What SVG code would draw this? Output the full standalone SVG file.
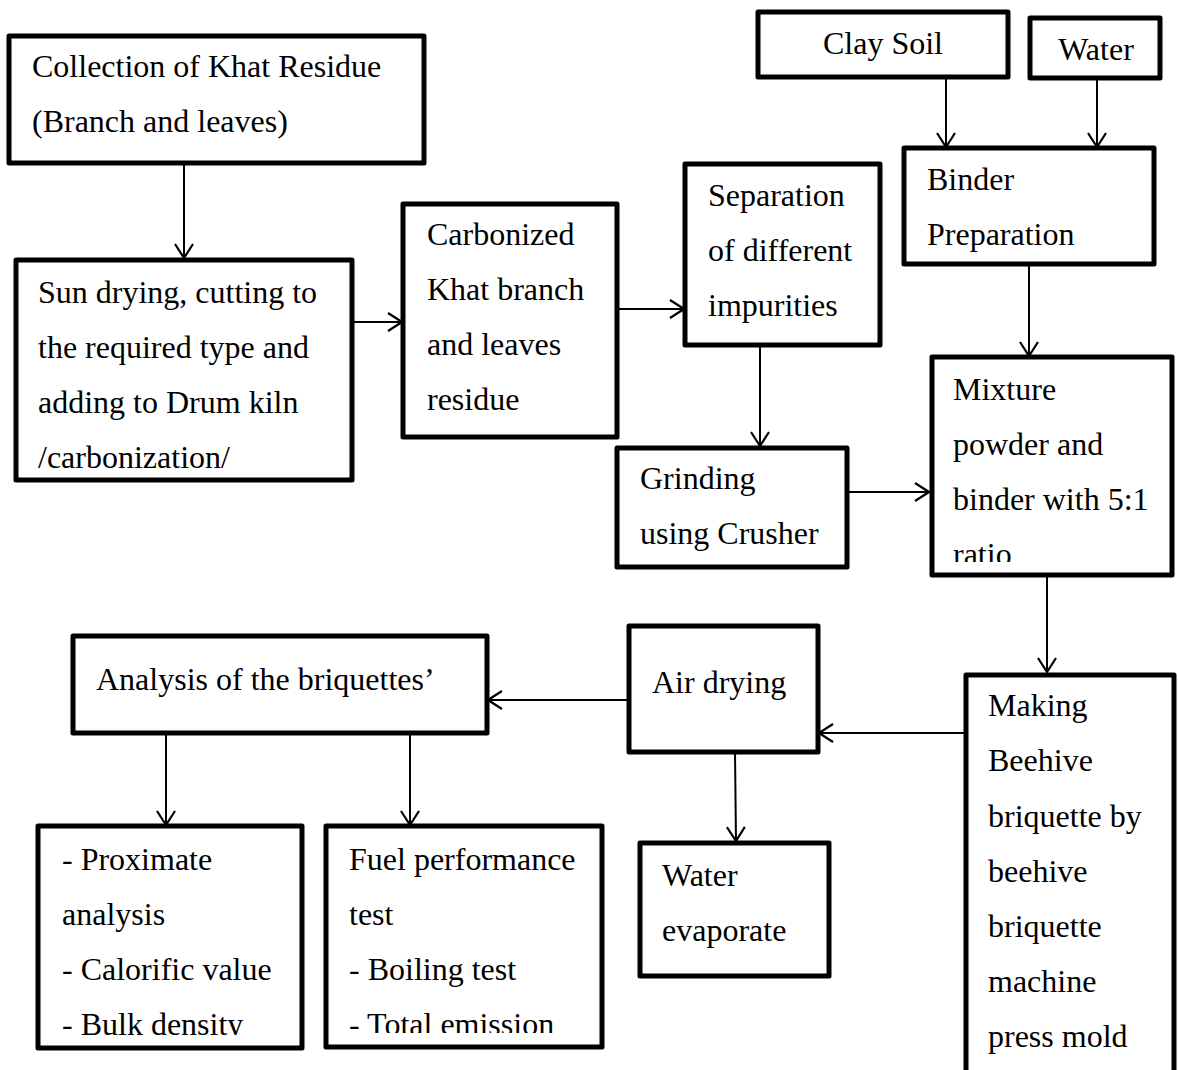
<svg xmlns="http://www.w3.org/2000/svg" width="1178" height="1070" viewBox="0 0 1178 1070">
<style>
.box{fill:#fff;stroke:#000;stroke-width:5;stroke-linejoin:round}
.t{font-family:"Liberation Serif","Times New Roman",serif;font-size:32px;fill:#000}
.c{stroke:#000;stroke-width:2;fill:none}
</style>
<defs>
<marker id="ah" viewBox="0 0 16 20" refX="15" refY="10" markerWidth="16" markerHeight="20" markerUnits="userSpaceOnUse" orient="auto">
<path d="M1,1 L15,10 L1,19" fill="none" stroke="#000" stroke-width="2.2"/>
</marker>
<clipPath id="clipMix"><rect x="930" y="355" width="245" height="207"/></clipPath>
<clipPath id="clipProx"><rect x="36" y="824" width="270" height="211"/></clipPath>
<clipPath id="clipFuel"><rect x="324" y="824" width="282" height="209"/></clipPath>
</defs>
<rect width="1178" height="1070" fill="#fff"/>
<g id="connectors">
<line class="c" x1="184" y1="163" x2="184" y2="258" marker-end="url(#ah)"/>
<line class="c" x1="352" y1="322" x2="402" y2="322" marker-end="url(#ah)"/>
<line class="c" x1="617" y1="309" x2="684" y2="309" marker-end="url(#ah)"/>
<line class="c" x1="760" y1="345" x2="760" y2="446" marker-end="url(#ah)"/>
<line class="c" x1="847" y1="492" x2="929" y2="492" marker-end="url(#ah)"/>
<line class="c" x1="946" y1="77" x2="946" y2="147" marker-end="url(#ah)"/>
<line class="c" x1="1097" y1="78" x2="1097" y2="147" marker-end="url(#ah)"/>
<line class="c" x1="1029" y1="264" x2="1029" y2="356" marker-end="url(#ah)"/>
<line class="c" x1="1047" y1="576" x2="1047" y2="672" marker-end="url(#ah)"/>
<line class="c" x1="968" y1="733" x2="819" y2="733" marker-end="url(#ah)"/>
<line class="c" x1="629" y1="700" x2="488" y2="700" marker-end="url(#ah)"/>
<line class="c" x1="166" y1="733" x2="166" y2="825" marker-end="url(#ah)"/>
<line class="c" x1="410" y1="733" x2="410" y2="825" marker-end="url(#ah)"/>
<line class="c" x1="735" y1="752" x2="736" y2="841" marker-end="url(#ah)"/>
</g>
<g id="n-collection">
<rect class="box" x="9" y="36" width="415" height="127"/>
<text class="t" x="32" y="77">Collection of Khat Residue</text>
<text class="t" x="32" y="132">(Branch and leaves)</text>
</g>
<g id="n-sundrying">
<rect class="box" x="16" y="260" width="336" height="220"/>
<text class="t" x="38" y="303">Sun drying, cutting to</text>
<text class="t" x="38" y="358">the required type and</text>
<text class="t" x="38" y="413">adding to Drum kiln</text>
<text class="t" x="38" y="468">/carbonization/</text>
</g>
<g id="n-carbonized">
<rect class="box" x="403" y="204" width="214" height="233"/>
<text class="t" x="427" y="245">Carbonized</text>
<text class="t" x="427" y="300">Khat branch</text>
<text class="t" x="427" y="355">and leaves</text>
<text class="t" x="427" y="410">residue</text>
</g>
<g id="n-separation">
<rect class="box" x="685" y="164" width="195" height="181"/>
<text class="t" x="708" y="206">Separation</text>
<text class="t" x="708" y="261">of different</text>
<text class="t" x="708" y="316">impurities</text>
</g>
<g id="n-grinding">
<rect class="box" x="617" y="448" width="230" height="119"/>
<text class="t" x="640" y="489">Grinding</text>
<text class="t" x="640" y="544">using Crusher</text>
</g>
<g id="n-clay">
<rect class="box" x="758" y="12" width="250" height="65"/>
<text class="t" x="883" y="54" text-anchor="middle">Clay Soil</text>
</g>
<g id="n-water">
<rect class="box" x="1030" y="18" width="130" height="60"/>
<text class="t" x="1096" y="60" text-anchor="middle">Water</text>
</g>
<g id="n-binder">
<rect class="box" x="904" y="148" width="250" height="116"/>
<text class="t" x="927" y="190">Binder</text>
<text class="t" x="927" y="245">Preparation</text>
</g>
<g id="n-mixture">
<rect class="box" x="932" y="357" width="240" height="218"/>
<g clip-path="url(#clipMix)">
<text class="t" x="953" y="400">Mixture</text>
<text class="t" x="953" y="455">powder and</text>
<text class="t" x="953" y="510">binder with 5:1</text>
<text class="t" x="953" y="565">ratio</text>
</g>
</g>
<g id="n-making">
<rect class="box" x="966" y="675" width="208" height="420"/>
<text class="t" x="988" y="716">Making</text>
<text class="t" x="988" y="771">Beehive</text>
<text class="t" x="988" y="827">briquette by</text>
<text class="t" x="988" y="882">beehive</text>
<text class="t" x="988" y="937">briquette</text>
<text class="t" x="988" y="992">machine</text>
<text class="t" x="988" y="1047">press mold</text>
</g>
<g id="n-airdrying">
<rect class="box" x="629" y="626" width="189" height="126"/>
<text class="t" x="652" y="693">Air drying</text>
</g>
<g id="n-analysis">
<rect class="box" x="73" y="636" width="414" height="97"/>
<text class="t" x="96" y="690">Analysis of the briquettes’</text>
</g>
<g id="n-proximate">
<rect class="box" x="38" y="826" width="264" height="222"/>
<g clip-path="url(#clipProx)">
<text class="t" x="62" y="870">- Proximate</text>
<text class="t" x="62" y="925">analysis</text>
<text class="t" x="62" y="980">- Calorific value</text>
<text class="t" x="62" y="1035">- Bulk density</text>
</g>
</g>
<g id="n-fuel">
<rect class="box" x="326" y="826" width="276" height="221"/>
<g clip-path="url(#clipFuel)">
<text class="t" x="349" y="870">Fuel performance</text>
<text class="t" x="349" y="925">test</text>
<text class="t" x="349" y="980">- Boiling test</text>
<text class="t" x="349" y="1035">- Total emission</text>
</g>
</g>
<g id="n-evaporate">
<rect class="box" x="640" y="843" width="189" height="133"/>
<text class="t" x="662" y="886">Water</text>
<text class="t" x="662" y="941">evaporate</text>
</g>
</svg>
